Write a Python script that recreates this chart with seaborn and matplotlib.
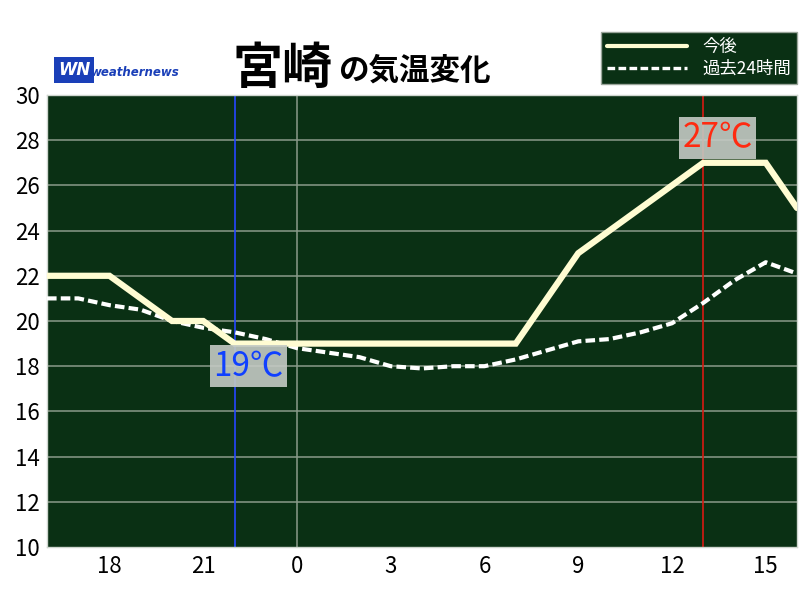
import matplotlib
matplotlib.use("Agg")
import matplotlib.pyplot as plt
import seaborn as sns
import pandas as pd
import numpy as np

# ---- data ----
hours = list(range(16, 41))  # 16:00 .. 16:00 next day
forecast = [22, 22, 22, 21, 20, 20, 19, 19, 19, 19, 19, 19, 19, 19, 19, 19, 21, 23, 24, 25, 26, 27, 27, 27, 25]
past24 = [21.0, 21.0, 20.7, 20.5, 20.0, 19.7, 19.5, 19.2, 18.8, 18.6, 18.4, 18.0, 17.9, 18.0, 18.0, 18.3,
          18.7, 19.1, 19.2, 19.5, 19.9, 20.8, 21.8, 22.6, 22.1]
tick_pos = [18, 21, 24, 27, 30, 33, 36, 39]
tick_labels = ["18", "21", "0", "3", "6", "9", "12", "15"]
y_ticks = [10, 12, 14, 16, 18, 20, 22, 24, 26, 28, 30]
min_hour, min_label = 22, "19℃"
max_hour, max_label = 37, "27℃"
title_main = "宮崎"
title_sub = "の気温変化"
legend_labels = ["今後", "過去24時間"]

df = pd.DataFrame({"hour": hours, "forecast": forecast, "past": past24})

sns.set_theme(style="white")
plt.rcParams['font.family'] = ['Noto Sans CJK JP', 'DejaVu Sans']

BG = "#0a3014"
CREAM = "#fffcd2"
GRID = "#8a9a8a"

fig = plt.figure(figsize=(8, 6), dpi=100)
ax = fig.add_axes([47/800, 1-547/600, 750/800, 452/600])
ax.set_facecolor(BG)

for y in y_ticks[1:-1]:
    ax.axhline(y, color=GRID, lw=1.1, zorder=1)
ax.axvline(24, color=GRID, lw=1.1, zorder=1)
ax.axvline(min_hour, color="#2646ff", lw=1.2, zorder=1)
ax.axvline(max_hour, color="#d81a12", lw=1.2, zorder=1)

sns.lineplot(data=df, x="hour", y="past", ax=ax, color="white", lw=3.0,
             linestyle=(0, (2.3, 1.0)), label=legend_labels[1], zorder=3)
sns.lineplot(data=df, x="hour", y="forecast", ax=ax, color=CREAM, lw=4.5,
             label=legend_labels[0], zorder=4, solid_joinstyle="miter")

ax.set_xlim(16, 40)
ax.set_ylim(10, 30)
ax.set_xticks(tick_pos)
ax.set_xticklabels(tick_labels)
ax.set_yticks(y_ticks)
ax.set_xlabel("")
ax.set_ylabel("")
ax.tick_params(axis="both", length=0, labelsize=16, colors="black")
ax.tick_params(axis="x", pad=6)
ax.tick_params(axis="y", pad=5)
for s in ax.spines.values():
    s.set_color("#cfd6cf")
    s.set_linewidth(1.0)

# annotation boxes
ax.text(min_hour + 0.45, 18.0, min_label, color="#1040ff", fontsize=24, ha="center", va="center",
        zorder=6, bbox=dict(boxstyle="square,pad=0.1", fc="#c4cac4", ec="none", alpha=0.9))
ax.text(max_hour + 0.45, 28.1, max_label, color="#ff2a10", fontsize=24, ha="center", va="center",
        zorder=6, bbox=dict(boxstyle="square,pad=0.1", fc="#c4cac4", ec="none", alpha=0.9))

# legend
h, l = ax.get_legend_handles_labels()
order = [l.index(legend_labels[0]), l.index(legend_labels[1])]
leg = ax.legend([h[i] for i in order], [l[i] for i in order],
                loc="upper right", bbox_to_anchor=(797/800, 1-32/600), bbox_transform=fig.transFigure,
                borderaxespad=0,
                frameon=True, facecolor=BG, edgecolor="#9aa59a", framealpha=1, fancybox=False,
                labelcolor="white", fontsize=12.5, handlelength=4.6, handletextpad=0.9,
                borderpad=0.35, labelspacing=0.22)
leg.get_frame().set_linewidth(1.0)
for line in leg.get_lines():
    line.set_linewidth(3.0 if line.get_linestyle() == "-" else 2.4)

# title
fig.text(233/800, 1-84/600, title_main, fontsize=36, fontweight="bold", color="black", ha="left", va="baseline")
fig.text(338/800, 1-80/600, title_sub, fontsize=22, fontweight="bold", color="black", ha="left", va="baseline")

# logo
fig.text(58/800, 1-75/600, "WN", fontsize=12, fontweight="bold", style="italic", color="white",
         family="DejaVu Sans", ha="left", va="baseline",
         bbox=dict(boxstyle="square,pad=0.22", fc="#1a3fb8", ec="none"))
fig.text(91/800, 1-76/600, "weathernews", fontsize=8.5, fontweight="bold", style="italic",
         color="#1a3fb8", family="DejaVu Sans", ha="left", va="baseline")

fig.savefig("out.png", dpi=100, facecolor="white")
